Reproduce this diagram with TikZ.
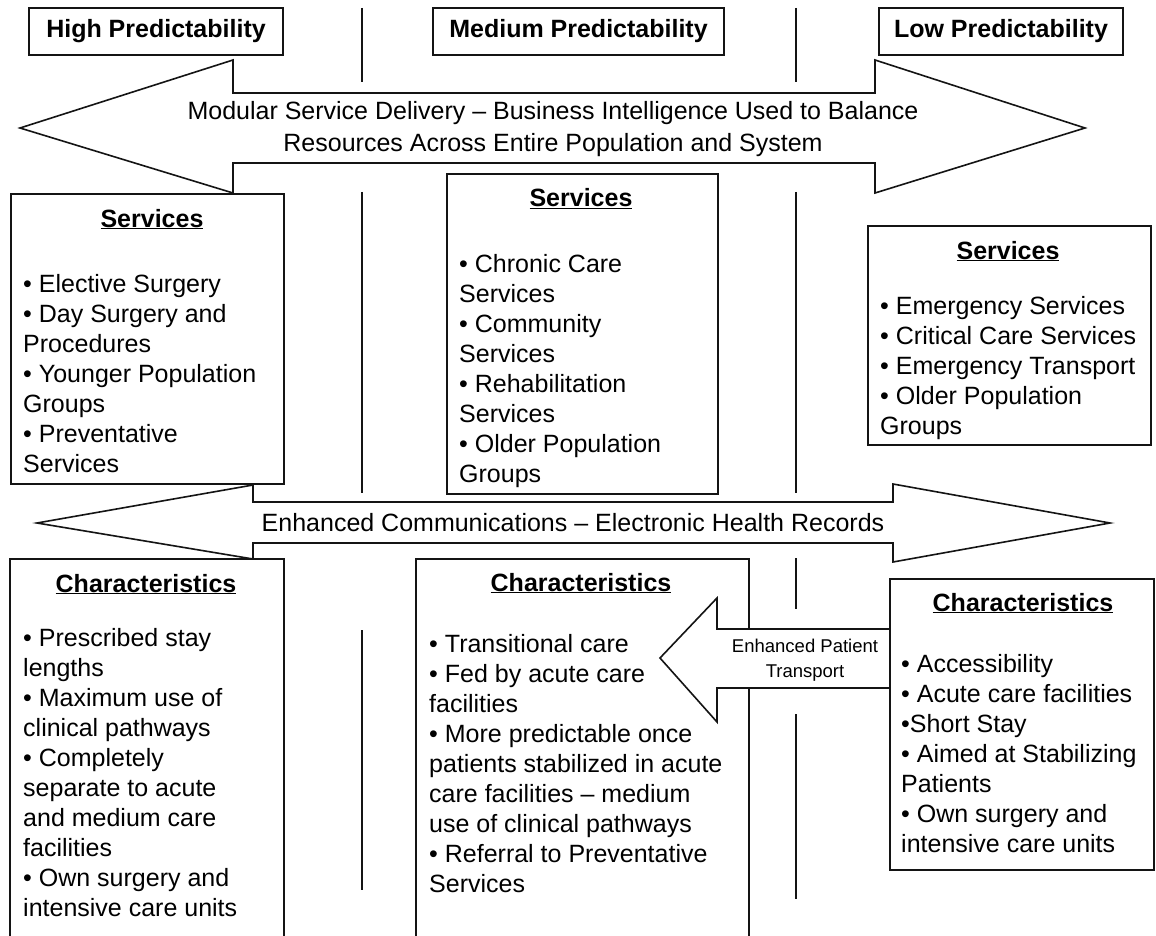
\documentclass[tikz,border=0pt]{standalone}
\usepackage{fontspec}
\setmainfont{Liberation Sans}
\usepackage{tikz}
\usetikzlibrary{positioning, calc}
\definecolor{inkblk}{RGB}{20,20,20}
\tikzset{
  frame/.style={draw=inkblk, line width=1.6pt, fill=white, inner sep=0pt, anchor=north west},
  hdrbox/.style={draw=inkblk, line width=1.6pt, fill=white, inner sep=0pt,
    minimum height=47pt, font=\fontsize{25}{30}\selectfont\bfseries},
  title/.style={inner sep=0pt, anchor=base, font=\fontsize{25}{30}\selectfont\bfseries},
  list/.style={inner sep=0pt, anchor=north west, align=left, font=\fontsize{25}{30}\selectfont},
  band/.style={draw=inkblk, line width=1.6pt, fill=white, line join=miter},
  bandtext/.style={inner sep=0pt, align=center, font=\fontsize{25}{32}\selectfont},
  divider/.style={draw=inkblk, line width=1.6pt}
}

\begin{document}
\begin{tikzpicture}[x=1pt, y=-1pt]
  \clip (0,0) rectangle (1156,936);
  \fill[white] (0,0) rectangle (1156,936);

  % ── Column dividers ─────────────────────────────────────────────────────
  \draw[divider] (362,8) -- (362,82);
  \draw[divider] (796,8) -- (796,82);
  \draw[divider] (362,192) -- (362,493);
  \draw[divider] (796,192) -- (796,493);
  \draw[divider] (362,630) -- (362,890);
  \draw[divider] (796,558) -- (796,609);
  \draw[divider] (796,714) -- (796,899);

  % ── Predictability headers ──────────────────────────────────────────────
  \node[hdrbox, minimum width=254pt] (hdrhigh) at (156,31.5) {High Predictability};
  \node[hdrbox, minimum width=291pt] (hdrmed)  at (578.5,31.5) {Medium Predictability};
  \node[hdrbox, minimum width=244pt] (hdrlow)  at (1001,31.5) {Low Predictability};

  % ── Service boxes ───────────────────────────────────────────────────────
  \node[frame, minimum width=273pt, minimum height=290pt] (svchigh) at (10,193) {};
  \node[frame, minimum width=271pt, minimum height=320pt] (svcmed)  at (446,173) {};
  \node[frame, minimum width=283pt, minimum height=219pt] (svclow)  at (867,225) {};

  % ── Modular service delivery band (double arrow) ────────────────────────
  \draw[band] (20,128) -- (233,60) -- (233,93) -- (875,93) -- (875,60) -- (1085,128)
    -- (875,193) -- (875,163) -- (233,163) -- (233,193) -- cycle;
  \node[bandtext] (modular) at (553,129)
    {Modular Service Delivery – Business Intelligence Used to Balance\\
     Resources Across Entire Population and System};

  % ── Communications band (double arrow) ──────────────────────────────────
  \draw[band] (37,523) -- (253,485) -- (253,502) -- (893,502) -- (893,484) -- (1110,523)
    -- (893,562) -- (893,543) -- (253,543) -- (253,559) -- cycle;
  \node[bandtext] (comms) at (573,523)
    {Enhanced Communications – Electronic Health Records};

  % ── Characteristics boxes ───────────────────────────────────────────────
  \node[frame, minimum width=274pt, minimum height=400pt] (chrhigh) at (9,558) {};
  \node[frame, minimum width=333pt, minimum height=400pt] (chrmed)  at (415,558) {};

  % patient transport arrow (open end runs into the low box)
  \draw[band] (889,629) -- (717,629) -- (717,598) -- (660,658) -- (717,722)
    -- (717,688) -- (889,688);
  \node[inner sep=0pt, align=center, font=\fontsize{18.5}{25}\selectfont] (transport)
    at (805,660) {Enhanced Patient\\Transport};

  \node[frame, minimum width=264pt, minimum height=291pt] (chrlow) at (889,578) {};

  % ── Box titles ──────────────────────────────────────────────────────────
  \node[title] (svchighT) at (152,227) {\underline{Services}};
  \node[title] (svcmedT)  at (581,207) {\underline{Services}};
  \node[title] (svclowT)  at (1008,259) {\underline{Services}};
  \node[title] (chrhighT) at (146,592) {\underline{Characteristics}};
  \node[title] (chrmedT)  at (581,591) {\underline{Characteristics}};
  \node[title] (chrlowT)  at (1023,611) {\underline{Characteristics}};

  % ── Box contents ────────────────────────────────────────────────────────
  \node[list] (svchighL) at (23,274) {• Elective Surgery\\• Day Surgery and\\Procedures\\
    • Younger Population\\Groups\\• Preventative\\Services};
  \node[list] (svcmedL) at (459,254) {• Chronic Care\\Services\\• Community\\Services\\
    • Rehabilitation\\Services\\• Older Population\\Groups};
  \node[list] (svclowL) at (880,296) {• Emergency Services\\• Critical Care Services\\
    • Emergency Transport\\• Older Population\\Groups};
  \node[list] (chrhighL) at (23,628) {• Prescribed stay\\lengths\\• Maximum use of\\
    clinical pathways\\• Completely\\separate to acute\\and medium care\\facilities\\
    • Own surgery and\\intensive care units};
  \node[list] (chrmedL) at (429,634) {• Transitional care\\• Fed by acute care\\facilities\\
    • More predictable once\\patients stabilized in acute\\care facilities – medium\\
    use of clinical pathways\\• Referral to Preventative\\Services};
  \node[list] (chrlowL) at (901,654) {• Accessibility\\• Acute care facilities\\•Short Stay\\
    • Aimed at Stabilizing\\Patients\\• Own surgery and\\intensive care units};
\end{tikzpicture}
\end{document}
